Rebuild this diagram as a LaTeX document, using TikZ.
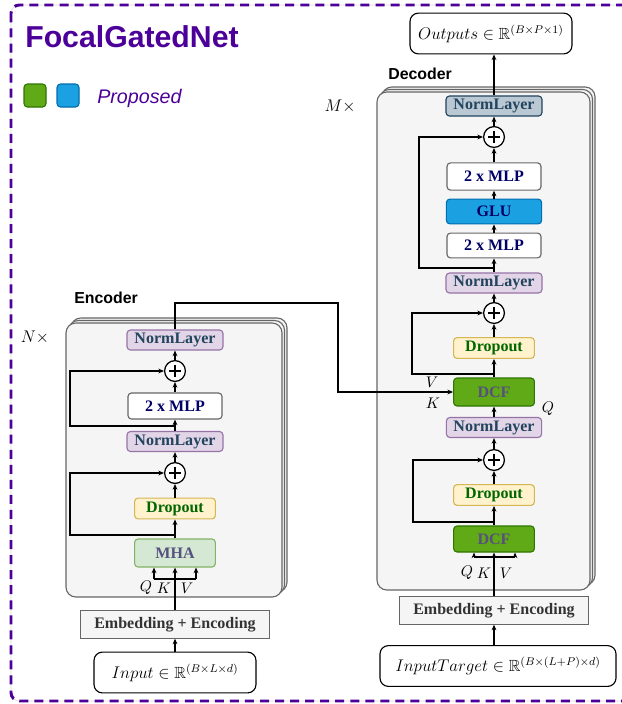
\documentclass[tikz,border=0pt]{standalone}
\usepackage{amsmath}
\usepackage{amssymb}
\usepackage{fontspec}
\setmainfont{Liberation Serif}
\setsansfont{Liberation Sans}
\usetikzlibrary{arrows.meta}

\definecolor{framepurple}{HTML}{4C0099}
\definecolor{normfill}{HTML}{E1D5E7}
\definecolor{normdraw}{HTML}{9673A6}
\definecolor{normtext}{HTML}{23445D}
\definecolor{lastfill}{HTML}{BAC8D3}
\definecolor{mlptext}{HTML}{000066}
\definecolor{glufill}{HTML}{1BA1E2}
\definecolor{gludraw}{HTML}{006EAF}
\definecolor{dropfill}{HTML}{FFF2CC}
\definecolor{dropdraw}{HTML}{D6B656}
\definecolor{droptext}{HTML}{006600}
\definecolor{mhafill}{HTML}{D5E8D4}
\definecolor{mhadraw}{HTML}{82B366}
\definecolor{dcffill}{HTML}{60A917}
\definecolor{dcfdraw}{HTML}{2D7600}
\definecolor{blocktext}{HTML}{56517E}
\definecolor{greyfill}{HTML}{F5F5F5}
\definecolor{greydraw}{HTML}{666666}
\definecolor{embtext}{HTML}{333333}

\begin{document}
\begin{tikzpicture}[x=0.025cm,y=-0.025cm,
  arr/.style={-{Stealth[length=4pt,width=3.4pt]},line width=0.8pt},
  wire/.style={line width=0.8pt},
  stackbox/.style={draw=greydraw,fill=greyfill,line width=0.8pt,rounded corners=7pt},
  blk/.style={draw,line width=0.8pt,rounded corners=2.5pt,inner sep=0pt,
    font=\bfseries\fontsize{11.4}{13}\selectfont},
  norm/.style={blk,fill=normfill,draw=normdraw,text=normtext,minimum width=2.4cm,minimum height=0.5cm},
  lastnorm/.style={blk,fill=lastfill,draw=normtext,text=normtext,minimum width=2.4cm,minimum height=0.5cm},
  mlp/.style={blk,fill=white,draw=greydraw,text=mlptext,minimum width=2.35cm,minimum height=0.65cm},
  glu/.style={blk,fill=glufill,draw=gludraw,text=mlptext,minimum width=2.38cm,minimum height=0.62cm},
  drop/.style={blk,fill=dropfill,draw=dropdraw,text=droptext,minimum width=2.02cm,minimum height=0.52cm},
  mha/.style={blk,fill=mhafill,draw=mhadraw,text=blocktext,minimum width=2.02cm,minimum height=0.7cm},
  dcf/.style={blk,fill=dcffill,draw=dcfdraw,text=blocktext,minimum width=2.02cm,minimum height=0.68cm},
  emb/.style={blk,rounded corners=0pt,fill=greyfill,draw=greydraw,text=embtext,minimum width=4.72cm,minimum height=0.68cm},
  io/.style={draw,line width=0.8pt,rounded corners=6pt,fill=white,inner sep=0pt,minimum height=1.02cm,
    font=\fontsize{11.5}{14}\selectfont},
  plus/.style={circle,draw,line width=0.9pt,fill=white,minimum size=0.52cm,inner sep=0pt,
    path picture={
      \draw[line width=1.1pt] ([xshift=-0.14cm]path picture bounding box.center) -- ([xshift=0.14cm]path picture bounding box.center);
      \draw[line width=1.1pt] ([yshift=-0.14cm]path picture bounding box.center) -- ([yshift=0.14cm]path picture bounding box.center);}},
  lab/.style={inner sep=0pt,font=\fontsize{11}{13}\selectfont},
  head/.style={anchor=base west,inner sep=0pt,font=\sffamily\bfseries\fontsize{11.3}{13}\selectfont}]

\useasboundingbox (0,0) rectangle (621,704);

% frame, title and legend
\draw[black!15,line width=0.4pt,rounded corners=6pt] (11,5) rectangle (640,701);
\draw[framepurple,line width=2.1pt,dash pattern=on 6.4pt off 4.3pt,rounded corners=6pt] (11,5) rectangle (640,701);
\node[anchor=base west,inner sep=0pt,text=framepurple,font=\sffamily\bfseries\fontsize{21.5}{26}\selectfont] (title) at (25,47) {FocalGatedNet};
\draw[draw=dcfdraw,fill=dcffill,line width=0.8pt,rounded corners=2.5pt] (24,84) rectangle (46,107);
\draw[draw=gludraw,fill=glufill,line width=0.8pt,rounded corners=2.5pt] (57,84) rectangle (79,107);
\node[anchor=base west,inner sep=0pt,text=framepurple,font=\sffamily\itshape\fontsize{14}{17}\selectfont] (legend) at (97,103) {Proposed};

% stacked layer boxes
\foreach \o in {5,2.5,0} {\draw[stackbox] (66+\o,323-\o) rectangle (282+\o,597-\o);}
\foreach \o in {5,2.5,0} {\draw[stackbox] (377+\o,92-\o) rectangle (590+\o,590-\o);}
\node[head] (enchead) at (74,303) {Encoder};
\node[head] (dechead) at (388,79) {Decoder};
\node[lab,font=\fontsize{12.5}{15}\selectfont] (ntimes) at (35,337) {$N\times$};
\node[lab,font=\fontsize{12.5}{15}\selectfont] (mtimes) at (340,106) {$M\times$};

% encoder
\node[io,minimum width=4.05cm] (einput) at (175,672.5) {$Input \in \mathbb{R}^{(B\times L\times d)}$};
\node[emb] (eemb) at (175,624.5) {Embedding + Encoding};
\node[mha] (emha) at (175,553) {MHA};
\node[drop] (edrop) at (175,508.5) {Dropout};
\node[plus] (eplus2) at (175,473) {};
\node[norm] (enorm1) at (175,441.5) {NormLayer};
\node[mlp] (emlp) at (175,406) {2 x MLP};
\node[plus] (eplus1) at (175,371) {};
\node[norm] (enorm2) at (175,340) {NormLayer};

\draw[arr] (einput) -- (eemb);
\draw[arr] (eemb) -- (emha);
\coordinate (eq) at (154,579);
\coordinate (ev) at (196,579);
\draw[wire] (eq) -- (ev);
\draw[arr] (eq) -- (eq |- emha.south);
\draw[arr] (ev) -- (ev |- emha.south);
\node[lab] (eqlab) at (146,588) {$Q$};
\node[lab] (eklab) at (164,588) {$K$};
\node[lab] (evlab) at (187,588) {$V$};
\draw[arr] (emha) -- (edrop);
\draw[arr] (edrop) -- (eplus2);
\draw[arr] (eplus2) -- (enorm1);
\draw[arr] (enorm1) -- (emlp);
\draw[arr] (emlp) -- (eplus1);
\draw[arr] (eplus1) -- (enorm2);
\coordinate (eb1) at (175,535);
\coordinate (eb2) at (175,426);
\draw[arr] (eb1) -- ++(-105,0) |- (eplus2);
\draw[arr] (eb2) -- ++(-105,0) |- (eplus1);

% decoder
\node[io,minimum width=5.9cm] (dinput) at (498,666) {$InputTarget \in \mathbb{R}^{(B\times (L+P)\times d)}$};
\node[emb] (demb) at (494,610.5) {Embedding + Encoding};
\node[dcf,minimum height=0.65cm] (ddcf1) at (494,539) {DCF};
\node[drop] (ddrop1) at (494,495) {Dropout};
\node[plus] (dplus3) at (494,460) {};
\node[norm,minimum width=2.38cm] (dnorm1) at (494,427.5) {NormLayer};
\node[dcf,minimum height=0.7cm] (ddcf2) at (494,392) {DCF};
\node[drop] (ddrop2) at (494,348) {Dropout};
\node[plus] (dplus2) at (494,313) {};
\node[norm] (dnorm2) at (494,283) {NormLayer};
\node[mlp,minimum height=0.62cm] (dmlp1) at (494,245.5) {2 x MLP};
\node[glu] (dglu) at (494,211.5) {GLU};
\node[mlp,minimum height=0.68cm] (dmlp2) at (494,176.5) {2 x MLP};
\node[plus] (dplus1) at (494,137) {};
\node[lastnorm] (dnorm3) at (494,106) {NormLayer};
\node[io,minimum width=4.05cm] (dout) at (491,33.5) {$Outputs \in \mathbb{R}^{(B\times P\times 1)}$};

\draw[arr] (demb |- dinput.north) -- (demb);
\draw[arr] (demb) -- (ddcf1);
\coordinate (dq) at (474,557);
\coordinate (dv) at (515,557);
\draw[wire] (dq) -- (dv);
\draw[arr] (dq) -- (dq |- ddcf1.south);
\draw[arr] (dv) -- (dv |- ddcf1.south);
\node[lab] (dqlab) at (467,573) {$Q$};
\node[lab] (dklab) at (484,573) {$K$};
\node[lab] (dvlab) at (506,573) {$V$};
\draw[arr] (ddcf1) -- (ddrop1);
\draw[arr] (ddrop1) -- (dplus3);
\draw[arr] (dplus3) -- (dnorm1);
\draw[arr] (dnorm1) -- (ddcf2);
\draw[arr] (ddcf2) -- (ddrop2);
\draw[arr] (ddrop2) -- (dplus2);
\draw[arr] (dplus2) -- (dnorm2);
\draw[arr] (dnorm2) -- (dmlp1);
\draw[arr] (dmlp1) -- (dglu);
\draw[arr] (dglu) -- (dmlp2);
\draw[arr] (dmlp2) -- (dplus1);
\draw[arr] (dplus1) -- (dnorm3);
\draw[arr] (dnorm3) -- (dnorm3 |- dout.south);
\coordinate (db1) at (494,522);
\coordinate (db2) at (494,374);
\coordinate (db3) at (494,268);
\draw[arr] (db1) -- ++(-81,0) |- (dplus3);
\draw[arr] (db2) -- ++(-82,0) |- (dplus2);
\draw[arr] (db3) -- ++(-75,0) |- (dplus1);
\node[lab] (dvlab2) at (432,382) {$V$};
\node[lab] (dklab2) at (433,403) {$K$};
\node[lab] (dqlab2) at (548,409) {$Q$};

% encoder output into decoder
\coordinate (ebend) at (338,303);
\draw[arr] (enorm2.north) |- (ebend) |- (ddcf2.west);
\end{tikzpicture}
\end{document}
